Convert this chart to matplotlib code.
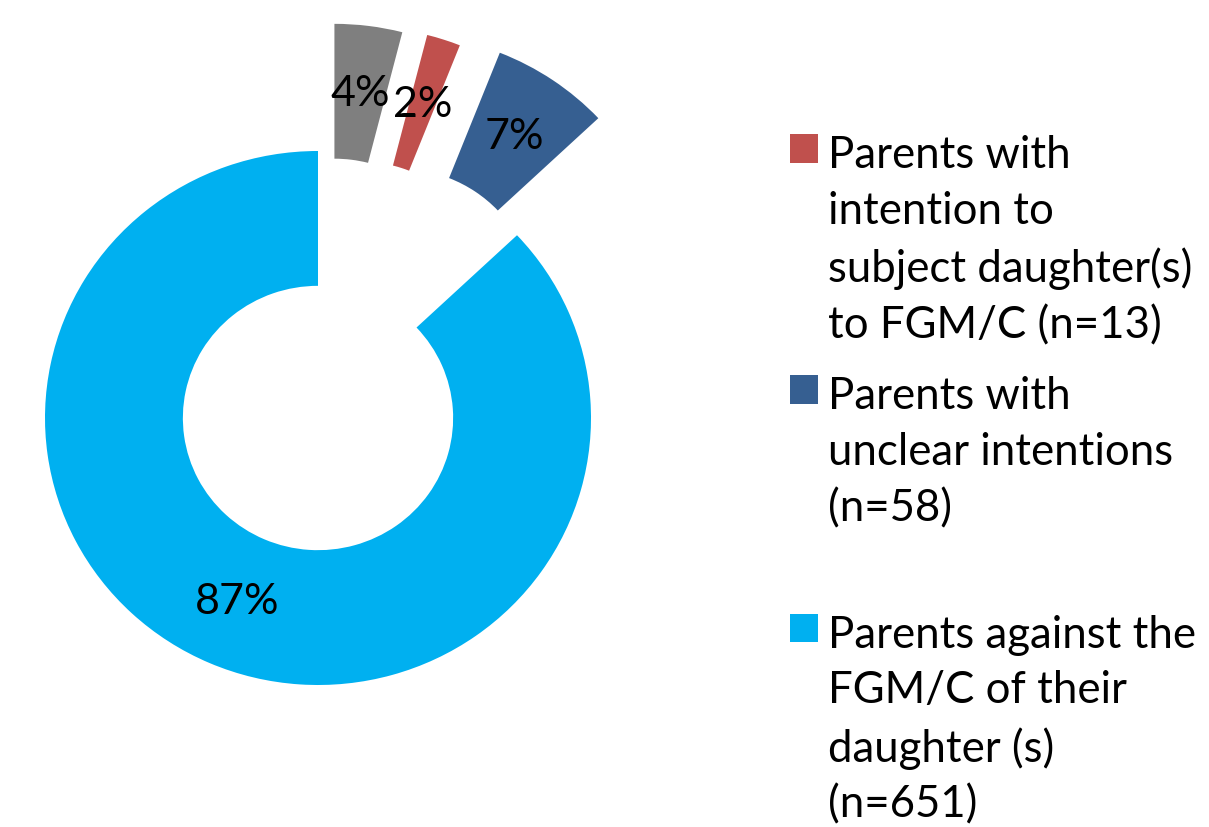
import matplotlib
matplotlib.use("Agg")
import matplotlib.pyplot as plt
import numpy as np

# ---- data ----
categories = [
    "Other",
    "Parents with\nintention to\nsubject daughter(s)\nto FGM/C (n=13)",
    "Parents with\nunclear intentions\n(n=58)\n",
    "Parents against the\nFGM/C of their\ndaughter (s)\n(n=651)",
]
shares = [4, 2, 7, 87]
pct_labels = ["4%", "2%", "7%", "87%"]
colors = ["#7F7F7F", "#C0504D", "#365F91", "#00B0F0"]
explode = [0.48, 0.49, 0.53, 0.0]

W, H = 1209, 828
fig = plt.figure(figsize=(W / 100, H / 100), dpi=100)
ax = fig.add_axes([0, 0, 1, 1])

wedges, texts = ax.pie(
    shares, colors=colors, explode=explode, startangle=90, counterclock=False,
    radius=1.0, wedgeprops=dict(width=0.505, linewidth=0),
)
# percentage labels at the middle of each ring segment
for w, lab in zip(wedges, pct_labels):
    ang = np.deg2rad((w.theta1 + w.theta2) / 2)
    cx, cy = w.center
    r = w.r - w.width / 2
    ax.text(cx + r * np.cos(ang), cy + r * np.sin(ang), lab, ha="center", va="center",
            fontsize=31, family="Lato", color="black")

# map data units to pixels: center (318, 419), rx=273 px, ry=267 px
cxp, cyp, rx, ry = 318, 419, 273, 267
ax.set_aspect("auto")
ax.set_xlim(-cxp / rx, (W - cxp) / rx)
ax.set_ylim(-(H - cyp) / ry, cyp / ry)
ax.axis("off")

leg = fig.legend(
    wedges[1:], categories[1:], loc="upper left",
    bbox_to_anchor=(790 / W, 1 - 135 / H), frameon=False,
    prop=dict(family="Lato", size=31.5), handlelength=0.63, handleheight=0.63,
    handletextpad=0.25, labelspacing=0.68, borderpad=0, borderaxespad=0,
)
for t in leg.get_texts():
    t.set_linespacing(1.45)
for col in leg._legend_handle_box.get_children():
    for item in col.get_children():
        item.align = "top"

fig.savefig("out.png", dpi=100)
